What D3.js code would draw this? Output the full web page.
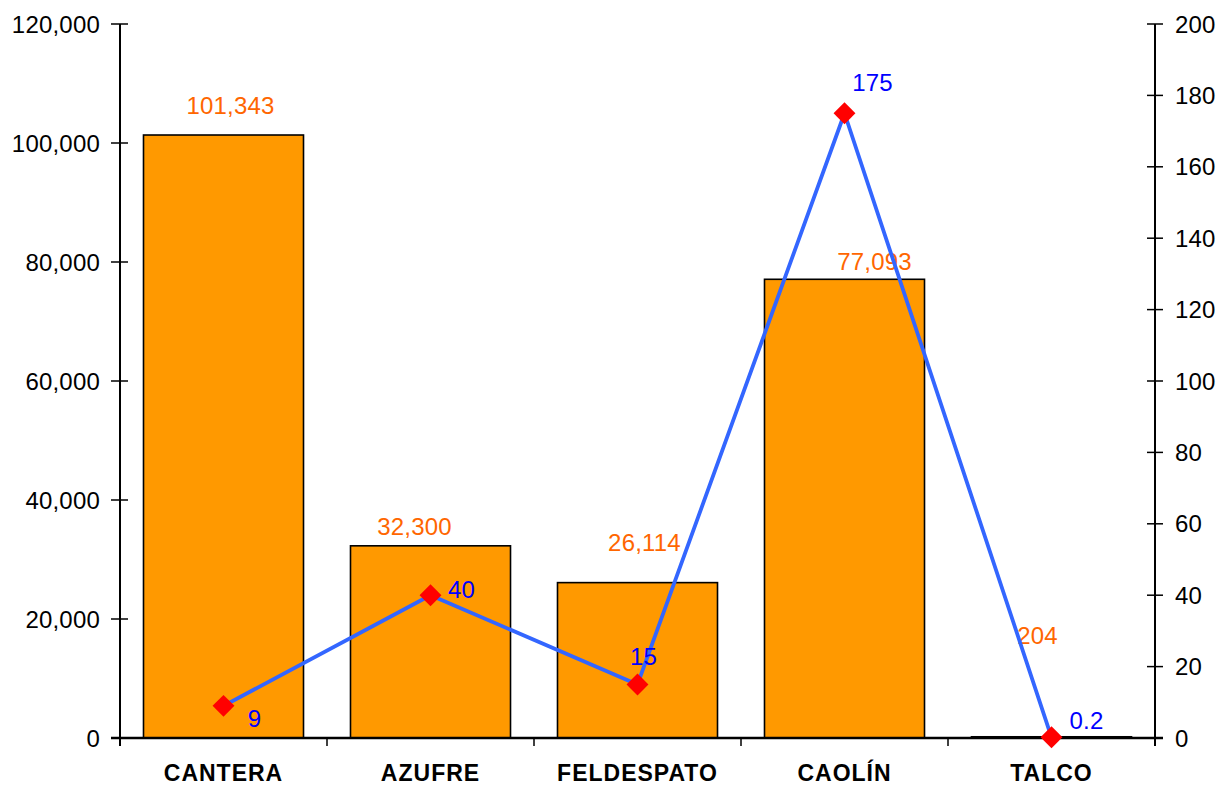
<!DOCTYPE html>
<html><head><meta charset="utf-8">
<script src="https://cdn.jsdelivr.net/npm/d3@7"></script>
<style>
html,body{margin:0;padding:0;background:#fff;}
text{font-family:"Liberation Sans",Arial,sans-serif;}
</style></head>
<body>
<svg id="chart" width="1223" height="787"></svg>
<script>
const categories = ["CANTERA","AZUFRE","FELDESPATO","CAOLÍN","TALCO"];
const barValues = [101343, 32300, 26114, 77093, 204];
const lineValues = [9, 40, 15, 175, 0.2];
const lineLabels = ["9","40","15","175","0.2"];
const leftTicks = [0,20000,40000,60000,80000,100000,120000];
const rightTicks = [0,20,40,60,80,100,120,140,160,180,200];

// label placement (layout only)
const barLabelOffsets = [[7,-21],[-16,-11],[7,-32],[30,-9],[-14,-93]];
const lineLabelOffsets = [[31,21],[31,3],[6,-19],[28,-22],[35,-8]];

const svg = d3.select("#chart");
const L = 120, R = 1155, T = 24, B = 738;
const x = d3.scaleBand().domain(categories).range([L,R]).paddingInner(0.227).paddingOuter(0.1135);
const yL = d3.scaleLinear().domain([0,120000]).range([B,T]);
const yR = d3.scaleLinear().domain([0,200]).range([B,T]);
const fmt = d3.format(",");
const FS = "24px", LS = "0.2px";

// bars
svg.append("g").selectAll("rect").data(barValues).join("rect")
  .attr("x",(d,i)=>x(categories[i]))
  .attr("y",d=>yL(d))
  .attr("width",x.bandwidth())
  .attr("height",d=>B-yL(d))
  .attr("fill","#FF9900").attr("stroke","#000").attr("stroke-width",1.6);

// left axis
const gL = svg.append("g");
gL.append("line").attr("x1",L).attr("x2",L).attr("y1",T).attr("y2",B+8).attr("stroke","#000").attr("stroke-width",2);
leftTicks.forEach(t=>{
  gL.append("line").attr("x1",L-9).attr("x2",L+8).attr("y1",yL(t)).attr("y2",yL(t)).attr("stroke","#000").attr("stroke-width",1.5);
  gL.append("text").attr("x",L-20).attr("y",yL(t)+8.5).attr("text-anchor","end")
    .attr("font-size",FS).attr("letter-spacing",LS).attr("fill","#000").text(fmt(t));
});
// right axis
const gR = svg.append("g");
gR.append("line").attr("x1",R).attr("x2",R).attr("y1",T).attr("y2",B+8).attr("stroke","#000").attr("stroke-width",2);
rightTicks.forEach(t=>{
  gR.append("line").attr("x1",R-8).attr("x2",R+8).attr("y1",yR(t)).attr("y2",yR(t)).attr("stroke","#000").attr("stroke-width",1.5);
  gR.append("text").attr("x",R+20).attr("y",yR(t)+8.5).attr("text-anchor","start")
    .attr("font-size",FS).attr("letter-spacing",LS).attr("fill","#000").text(t);
});
// bottom axis
const gB = svg.append("g");
gB.append("line").attr("x1",L-9).attr("x2",R+8).attr("y1",B).attr("y2",B).attr("stroke","#000").attr("stroke-width",2.5);
categories.forEach((c,i)=>{
  if(i>0) gB.append("line").attr("x1",x(c)-(x.step()-x.bandwidth())/2).attr("x2",x(c)-(x.step()-x.bandwidth())/2).attr("y1",B).attr("y2",B+8).attr("stroke","#000").attr("stroke-width",1.5);
  gB.append("text").attr("x",x(c)+x.bandwidth()/2).attr("y",781).attr("text-anchor","middle")
    .attr("font-size","23px").attr("font-weight","bold").attr("letter-spacing","1px").attr("fill","#000").text(c);
});

// bar labels
svg.append("g").selectAll("text").data(barValues).join("text")
  .attr("x",(d,i)=>x(categories[i])+x.bandwidth()/2+barLabelOffsets[i][0])
  .attr("y",(d,i)=>yL(d)+barLabelOffsets[i][1])
  .attr("text-anchor","middle").attr("font-size",FS).attr("letter-spacing",LS)
  .attr("fill","#FF6600").text(d=>fmt(d));

// line
const cx = (i)=>x(categories[i])+x.bandwidth()/2;
const line = d3.line().x((d,i)=>cx(i)).y(d=>yR(d));
svg.append("path").datum(lineValues).attr("d",line).attr("fill","none")
  .attr("stroke","#3366FF").attr("stroke-width",3.8).attr("stroke-linejoin","round");
svg.append("g").selectAll("path").data(lineValues).join("path")
  .attr("d",d3.symbol().type(d3.symbolSquare).size(240))
  .attr("transform",(d,i)=>`translate(${cx(i)},${yR(d)}) rotate(45)`)
  .attr("fill","#FF0000");
svg.append("g").selectAll("text").data(lineValues).join("text")
  .attr("x",(d,i)=>cx(i)+lineLabelOffsets[i][0])
  .attr("y",(d,i)=>yR(d)+lineLabelOffsets[i][1])
  .attr("text-anchor","middle").attr("font-size",FS).attr("letter-spacing",LS)
  .attr("fill","#0000FF").text((d,i)=>lineLabels[i]);
</script>
</body></html>
